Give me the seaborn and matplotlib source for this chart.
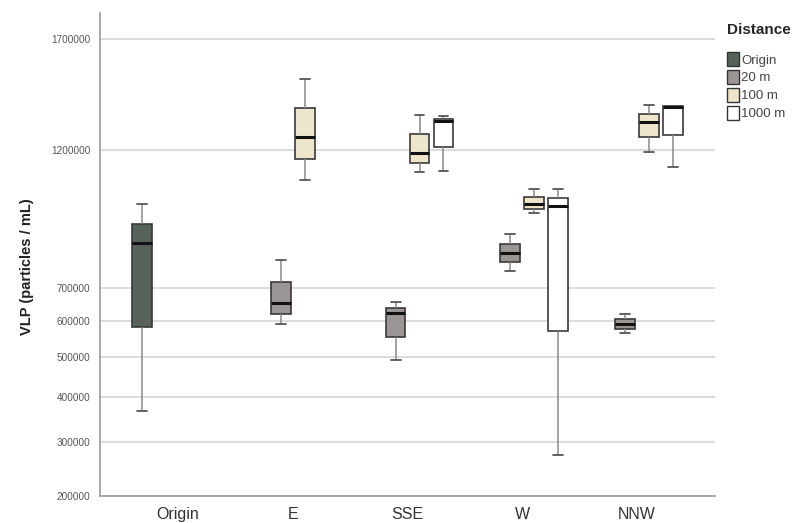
import numpy as np
import pandas as pd
import matplotlib
matplotlib.use("Agg")
import matplotlib.pyplot as plt
from matplotlib.patches import Patch
import seaborn as sns

# Sampling sites and distance classes
sites = ["Origin", "E", "SSE", "W", "NNW"]
distances = ["Origin", "20 m", "100 m", "1000 m"]

# Five-number summaries (min, Q1, median, Q3, max) of VLP counts, particles/mL
origin_origin = [368600, 584500, 848000, 916000, 988000]
e_20m = [592300, 621500, 653500, 719700, 790400]
e_100m = [1079500, 1165200, 1256000, 1378100, 1510100]
sse_20m = [493000, 556200, 625300, 639400, 657500]
sse_100m = [1112000, 1149900, 1190500, 1267300, 1348800]
sse_1000m = [1117200, 1214300, 1325000, 1330100, 1343100]
w_20m = [756100, 783700, 813900, 845600, 880400]
w_100m = [957000, 971700, 988000, 1016500, 1047000]
w_1000m = [274600, 573700, 981700, 1010900, 1047800]
nnw_20m = [567500, 577100, 592300, 605900, 620600]
nnw_100m = [1191300, 1256000, 1317600, 1353200, 1392700]
nnw_1000m = [1133100, 1263100, 1386000, 1390000, 1390500]

y_ticks = [200000, 300000, 400000, 500000, 600000, 700000, 1200000, 1700000]

groups = [
    ("Origin", "Origin", origin_origin),
    ("E", "20 m", e_20m),
    ("E", "100 m", e_100m),
    ("SSE", "20 m", sse_20m),
    ("SSE", "100 m", sse_100m),
    ("SSE", "1000 m", sse_1000m),
    ("W", "20 m", w_20m),
    ("W", "100 m", w_100m),
    ("W", "1000 m", w_1000m),
    ("NNW", "20 m", nnw_20m),
    ("NNW", "100 m", nnw_100m),
    ("NNW", "1000 m", nnw_1000m),
]
rows = [(site, dist, v) for site, dist, vals in groups for v in vals]
df = pd.DataFrame(rows, columns=["Site", "Distance", "VLP"])

colors = {"Origin": "#57625b", "20 m": "#9b9596", "100 m": "#ede6cd", "1000 m": "#ffffff"}

sns.set_style("white")
plt.rcParams["font.family"] = ["Liberation Sans", "DejaVu Sans"]

fig = plt.figure(figsize=(7.99, 5.23), dpi=100)
ax = fig.add_axes([0.1252, 0.0516, 0.7697, 0.9235])

sns.boxplot(
    data=df, x="Site", y="VLP", hue="Distance",
    order=sites, hue_order=distances, palette=colors,
    dodge=True, width=0.835, gap=0.17, saturation=1,
    whis=(0, 100), linecolor="#3a3a3a", linewidth=1.2,
    medianprops={"color": "#111111", "linewidth": 2.2},
    whiskerprops={"color": "#8a8a8a", "linewidth": 1.1},
    capprops={"color": "#555555", "linewidth": 1.3},
    legend=False, ax=ax,
)

ax.set_yscale("function", functions=(lambda v: np.sqrt(np.clip(v, 0, None)), np.square))
ax.set_ylim(200000, 1830000)
ax.set_xlim(-0.678, 4.678)
ax.set_yticks(y_ticks)
ax.set_yticklabels([str(t) for t in y_ticks])
ax.yaxis.set_minor_locator(matplotlib.ticker.NullLocator())
ax.tick_params(axis="y", length=0, labelsize=7.2, labelcolor="#555555", pad=7)
ax.tick_params(axis="x", length=0, labelsize=11.5, labelcolor="#333333", pad=8)
ax.grid(axis="y", color="#d6d6d6", linewidth=1.2)
ax.set_axisbelow(True)

for side in ["top", "right"]:
    ax.spines[side].set_visible(False)
for side in ["left", "bottom"]:
    ax.spines[side].set_color("#9a9a9a")
    ax.spines[side].set_linewidth(1.2)

ax.set_xlabel("")
ax.set_ylabel("VLP (particles / mL)", fontsize=10.5, fontweight="bold", color="#222222", labelpad=16)
ax.yaxis.set_label_coords(-0.107, 0.475)

handles = [Patch(facecolor=colors[d], edgecolor="#333333", linewidth=1.0, label=d) for d in distances]
leg = fig.legend(
    handles=handles, title="Distance", loc="upper left",
    bbox_to_anchor=(0.903, 0.966), frameon=False,
    handlelength=0.9, handleheight=1.2, handletextpad=0.2,
    labelspacing=0.28, borderaxespad=0, alignment="left",
    prop={"size": 9.5},
)
leg.get_title().set_fontweight("bold")
leg.get_title().set_fontsize(11)
leg._legend_box.sep = 11
for t in leg.get_texts():
    t.set_color("#444444")

fig.savefig("out.png", dpi=100)
